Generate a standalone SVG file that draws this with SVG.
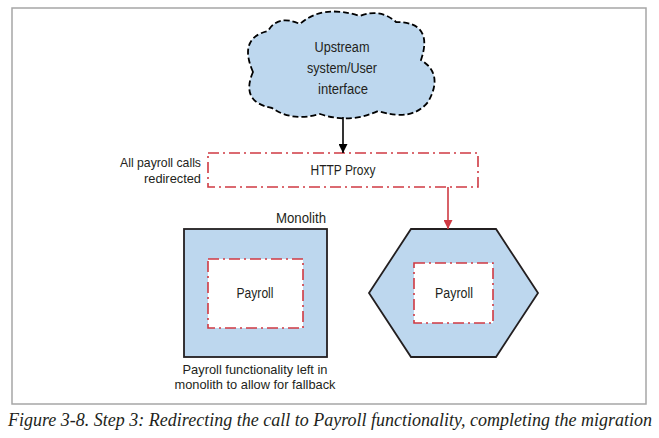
<svg xmlns="http://www.w3.org/2000/svg" width="659" height="438" viewBox="0 0 659 438">
<defs>
<style>
.t{font-family:"Liberation Sans",Arial,sans-serif;font-size:14px;fill:#231f20}
.s{font-size:13px}
.cap{font-family:"Liberation Serif","Times New Roman",serif;font-style:italic;font-size:18px;fill:#231f20}
.red{fill:#fff;stroke:#cf3a43;stroke-width:1.6;stroke-dasharray:11 4 2 4}
.blue{fill:#bdd7ee;stroke:#231f20;stroke-width:1.8}
</style>
<marker id="ab" viewBox="0 0 10 10" refX="10" refY="5" markerWidth="9" markerHeight="9" markerUnits="userSpaceOnUse" orient="auto"><path d="M0,0L10,5L0,10z" fill="#000"/></marker>
<marker id="ar" viewBox="0 0 10 10" refX="10" refY="5" markerWidth="9" markerHeight="9" markerUnits="userSpaceOnUse" orient="auto"><path d="M0,0L10,5L0,10z" fill="#cf3a43"/></marker>
</defs>
<rect x="0" y="0" width="659" height="438" fill="#fff"/>
<rect x="12" y="8" width="634" height="396" fill="#fff" stroke="#a6a6a6" stroke-width="1.5"/>
<g id="cloud">
<path d="M253,72 Q238,38 268,31 Q278,14 300,24 Q322,4 360,16 Q380,8 396,22 Q434,22 421,60 Q444,74 428,102 Q412,122 378,111 Q350,124 320,114 Q292,122 272,108 Q240,102 253,72 Z" fill="#bdd7ee" stroke="#000" stroke-width="1.8" stroke-dasharray="6 3"/>
<text class="t" x="342" y="52" text-anchor="middle" textLength="55" lengthAdjust="spacingAndGlyphs">Upstream</text>
<text class="t" x="342" y="73" text-anchor="middle" textLength="70" lengthAdjust="spacingAndGlyphs">system/User</text>
<text class="t" x="343" y="94" text-anchor="middle" textLength="50" lengthAdjust="spacingAndGlyphs">interface</text>
</g>
<g id="proxy">
<rect class="red" x="208" y="153" width="270" height="34"/>
<text class="t" x="343" y="175" text-anchor="middle" textLength="65" lengthAdjust="spacingAndGlyphs">HTTP Proxy</text>
<text class="t s" x="201" y="167" text-anchor="end" textLength="81" lengthAdjust="spacingAndGlyphs">All payroll calls</text>
<text class="t s" x="201" y="183" text-anchor="end" textLength="57" lengthAdjust="spacingAndGlyphs">redirected</text>
</g>
<g id="monolith">
<rect class="blue" x="184" y="229" width="143" height="128"/>
<text class="t" x="326" y="223" text-anchor="end" textLength="50" lengthAdjust="spacingAndGlyphs">Monolith</text>
<rect class="red" x="208" y="259" width="95" height="69"/>
<text class="t" x="255" y="298" text-anchor="middle" textLength="37" lengthAdjust="spacingAndGlyphs">Payroll</text>
<text class="t s" x="255" y="374" text-anchor="middle" textLength="145" lengthAdjust="spacingAndGlyphs">Payroll functionality left in</text>
<text class="t s" x="255" y="389" text-anchor="middle" textLength="161" lengthAdjust="spacingAndGlyphs">monolith to allow for fallback</text>
</g>
<g id="service">
<polygon class="blue" points="411,229 496,229 538,293 496,357 411,357 369,293"/>
<rect class="red" x="414" y="263" width="79" height="60"/>
<text class="t" x="454" y="298" text-anchor="middle" textLength="38" lengthAdjust="spacingAndGlyphs">Payroll</text>
</g>
<g id="connectors">
<line x1="343" y1="117" x2="343" y2="153" stroke="#000" stroke-width="1.6" marker-end="url(#ab)"/>
<line x1="448" y1="187" x2="448" y2="229" stroke="#cf3a43" stroke-width="1.6" marker-end="url(#ar)"/>
</g>
<text class="cap" x="8" y="426" textLength="644" lengthAdjust="spacingAndGlyphs">Figure 3-8. Step 3: Redirecting the call to Payroll functionality, completing the migration</text>
</svg>
